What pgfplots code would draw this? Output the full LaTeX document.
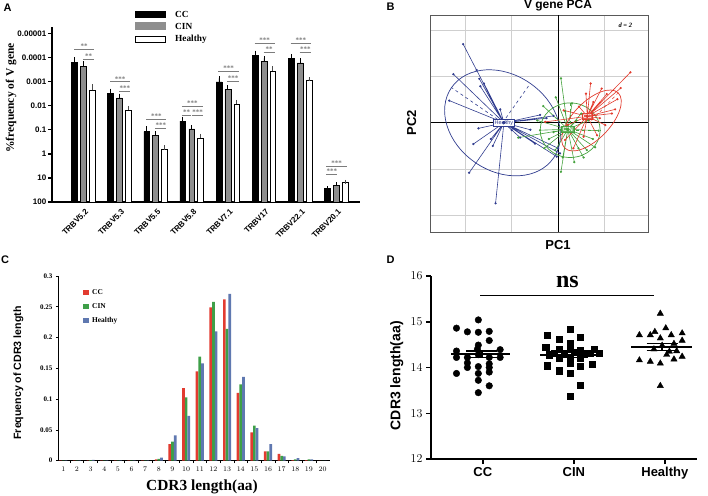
\documentclass[border=0pt]{standalone}
\usepackage{fontspec}
\setmainfont{Liberation Serif}
\setsansfont{Liberation Sans}
\usepackage{pgfplots}
\usepackage{pgfplotstable}
\pgfplotsset{compat=1.18}

\definecolor{cinGray}{HTML}{8E8E8E}
\definecolor{starGray}{HTML}{7C7C7C}
\definecolor{cRed}{HTML}{E23B30}
\definecolor{cGreen}{HTML}{3E9F48}
\definecolor{cBlue}{HTML}{5F78B0}
\definecolor{pBlue}{HTML}{313D8F}
\definecolor{pGreen}{HTML}{45A23E}
\definecolor{pRed}{HTML}{E23A2C}
\definecolor{gridGray}{HTML}{CFCFCF}

\newcommand{\fs}[1]{\fontsize{#1}{#1}\selectfont}
\newcommand{\sig}[4]{\draw[starGray, line width=0.7pt] (axis cs:#1,#3) -- (axis cs:#2,#3) node[midway, above, inner sep=0.4pt, text=starGray, font=\bfseries\fs{7}] {#4};}

% Panel A: bar height in decades above the 100 baseline (axis labels 100 ... 0.00001)
\pgfplotstableread{
x cc ccE cin cinE hl hlE
0 5.80 0.13 5.64 0.11 4.63 0.18
1 4.52 0.10 4.32 0.09 3.82 0.09
2 2.92 0.14 2.77 0.08 2.17 0.10
3 3.36 0.10 3.03 0.08 2.66 0.08
4 4.99 0.14 4.68 0.08 4.07 0.09
5 6.07 0.13 5.85 0.11 5.44 0.11
6 5.95 0.09 5.77 0.11 5.03 0.07
7 0.55 0.03 0.70 0.03 0.80 0.03
}\dataA

% Panel C: frequency of CDR3 length
\pgfplotstableread{
len cc cin hl
1 0.0005 0.0005 0.0005
2 0.0005 0.0005 0.0005
3 0.0005 0.0010 0.0015
4 0.0005 0.0005 0.0005
5 0.0005 0.0005 0.0005
6 0.0005 0.0005 0.0005
7 0.0005 0.0005 0.0005
8 0.002 0.003 0.005
9 0.027 0.031 0.041
10 0.118 0.103 0.073
11 0.145 0.169 0.158
12 0.249 0.258 0.210
13 0.262 0.214 0.271
14 0.110 0.124 0.136
15 0.046 0.057 0.053
16 0.015 0.015 0.027
17 0.011 0.008 0.007
18 0.001 0.002 0.004
19 0.001 0.002 0.002
20 0.0003 0.0003 0.0003
}\dataC

\begin{document}
\begin{tikzpicture}[x=1pt,y=1pt]
\useasboundingbox (0,0) rectangle (708,495);

%================ Panel A =================
\begin{axis}[
  at={(52pt,293pt)}, anchor=south west, scale only axis,
  width=308pt, height=174.7pt,
  xmin=-0.87, xmax=7.66, ymin=0, ymax=7.25,
  axis x line*=bottom, axis y line*=left,
  axis line style={-, line width=1.6pt},
  ytick={0,...,7}, yticklabels={100,10,1,0.1,0.01,0.001,0.0001,0.00001},
  xtick={0,...,7}, xticklabels={TRBV5.2,TRBV5.3,TRBV5.5,TRBV5.8,TRBV7.1,TRBV17,TRBV22.1,TRBV20.1},
  x tick label style={rotate=45, anchor=north east, font=\sffamily\bfseries\fs{8}, inner sep=0.5pt, yshift=-2pt},
  y tick label style={font=\sffamily\bfseries\fs{8}, inner sep=1.5pt},
  major x tick style={draw=none},
  major y tick style={line width=1.4pt, black},
  tick align=outside, major tick length=4pt,
  ybar, bar width=5.8pt,
  clip=false,
]
\addplot[fill=black, draw=black, line width=0.5pt, bar shift=-8.9pt,
  error bars/.cd, y dir=plus, y explicit, error bar style={line width=0.8pt, black}, error mark options={line width=0.8pt, mark size=2pt, black}]
  table[x=x, y=cc, y error=ccE]{\dataA};
\addplot[fill=cinGray, draw=black, line width=0.5pt, bar shift=0pt,
  error bars/.cd, y dir=plus, y explicit, error bar style={line width=0.8pt, black}, error mark options={line width=0.8pt, mark size=2pt, black}]
  table[x=x, y=cin, y error=cinE]{\dataA};
\addplot[fill=white, draw=black, line width=0.6pt, bar shift=8.9pt,
  error bars/.cd, y dir=plus, y explicit, error bar style={line width=0.8pt, black!70}, error mark options={line width=0.8pt, mark size=2pt, black!70}]
  table[x=x, y=hl, y error=hlE]{\dataA};
% significance marks
\sig{-0.26}{0.30}{6.34}{**}
\sig{-0.01}{0.30}{5.93}{**}
\sig{0.74}{1.30}{4.99}{***}
\sig{0.99}{1.30}{4.61}{***}
\sig{1.74}{2.30}{3.43}{***}
\sig{1.99}{2.30}{3.04}{***}
\sig{2.73}{3.30}{3.98}{***}
\sig{2.73}{2.98}{3.61}{**}
\sig{3.02}{3.30}{3.61}{***}
\sig{3.74}{4.30}{5.43}{***}
\sig{3.99}{4.30}{5.00}{***}
\sig{4.74}{5.30}{6.58}{***}
\sig{4.99}{5.30}{6.21}{**}
\sig{5.74}{6.30}{6.57}{***}
\sig{5.99}{6.30}{6.21}{***}
\sig{6.73}{7.30}{1.50}{***}
\sig{6.73}{7.03}{1.15}{***}
\end{axis}

% legend A
\draw[fill=black, draw=black, line width=0.5pt] (135,477.5) rectangle (165,484);
\draw[fill=cinGray, draw=cinGray, line width=0.5pt] (135,465.7) rectangle (165,472.3);
\draw[fill=white, draw=black, line width=0.6pt] (135,452.5) rectangle (165,459);
\node[anchor=west, font=\bfseries\fs{9.3}, inner sep=0] at (175,481) {CC};
\node[anchor=west, font=\bfseries\fs{9.3}, inner sep=0] at (175,469) {CIN};
\node[anchor=west, font=\bfseries\fs{9.3}, inner sep=0] at (175,455.7) {Healthy};
\node[rotate=90, font=\bfseries\fs{11.5}] at (11,397) {\%frequency of V gene};
\node[font=\sffamily\bfseries\fs{11}] at (7.5,487.5) {A};

%================ Panel B =================
\begin{axis}[
  at={(430.7pt,263pt)}, anchor=south west, scale only axis,
  width=217.3pt, height=217pt,
  xmin=-2.75, xmax=1.94, ymin=-2.36, ymax=2.33,
  xtick={-2,-1,1}, ytick={-2,-1,1,2},
  xticklabels={}, yticklabels={}, major tick length=0pt,
  grid=major, grid style={gridGray, line width=1pt},
  axis line style={draw=black!65, line width=0.6pt},
  clip=true,
]
\draw[black, line width=0.9pt] (axis cs:0,-2.36) -- (axis cs:0,2.33);
\draw[black, line width=0.9pt] (axis cs:-2.75,0) -- (axis cs:1.94,0);
% Healthy
\addplot[pBlue, line width=0.6pt, mark=*, mark size=0.8pt, mark options={fill=pBlue}] coordinates {
(-1.17,0) (-2.05,1.70) (-1.17,0) (-2.26,1.05) (-1.17,0) (-2.35,0.48)
(-1.17,0) (-1.68,0.79) (-1.17,0) (-1.76,1.14) (-1.17,0) (-1.70,0.95)
(-1.17,0) (-1.25,0.29) (-1.17,0) (-1.72,-0.12) (-1.17,0) (-1.83,-0.46)
(-1.17,0) (-1.41,-0.50) (-1.17,0) (-1.92,-1.08) (-1.17,0) (-1.35,-1.74)
(-1.17,0) (-0.39,0.17) (-1.17,0) (-0.82,-0.32) (-1.17,0) (-1.00,-0.16)
(-1.17,0) (0.04,-0.66) (-1.17,0) (-0.03,-0.73) (-1.17,0) (-0.10,0.15)
(-1.17,0) (-0.25,0.10) (-1.17,0) (0.00,-0.55) (-1.17,0) (-0.60,-0.15)
(-1.17,0) (-1.45,-0.35) (-1.17,0) (-1.60,0.85) (-1.17,0) (-0.50,-0.45)
};
\draw[pBlue, line width=0.7pt, rotate around={-34.6:(axis cs:-1.2,0)}] (axis cs:-1.2,0) ellipse [x radius=62pt, y radius=48.2pt];
\draw[pBlue, line width=0.6pt, dashed] (axis cs:-1.2,0) -- (axis cs:-2.30,0.76);
\draw[pBlue, line width=0.6pt, dashed] (axis cs:-1.2,0) -- (axis cs:-0.60,0.85);
% CIN
\addplot[pGreen, line width=0.6pt, mark=*, mark size=0.8pt, mark options={fill=pGreen}] coordinates {
(0.21,-0.14) (0.06,0.96) (0.21,-0.14) (-0.32,0.36) (0.21,-0.14) (0.30,0.42)
(0.21,-0.14) (0.87,-0.17) (0.21,-0.14) (0.80,-0.53) (0.21,-0.14) (0.06,-1.06)
(0.21,-0.14) (-0.39,-0.16) (0.21,-0.14) (-0.06,-0.59) (0.21,-0.14) (0.62,-0.59)
(0.21,-0.14) (-0.86,-0.32) (0.21,-0.14) (0.44,-0.55) (0.21,-0.14) (0.50,0.20)
(0.21,-0.14) (0.65,0.05) (0.21,-0.14) (-0.20,-0.35) (0.21,-0.14) (0.10,-0.75)
(0.21,-0.14) (0.35,-0.85) (0.21,-0.14) (-0.45,0.05) (0.21,-0.14) (0.75,-0.35)
(0.21,-0.14) (0.15,0.25) (0.21,-0.14) (-0.10,-0.20) (0.21,-0.14) (0.55,-0.75)
(0.21,-0.14) (-0.30,-0.55) (0.21,-0.14) (0.40,0.05) (0.21,-0.14) (-0.05,0.55)
};
\draw[pGreen, line width=0.7pt] (axis cs:0.26,-0.16) ellipse [x radius=30pt, y radius=27.3pt];
\draw[pGreen, line width=0.5pt, dashed] (axis cs:0.26,-0.16) -- (axis cs:0.91,-0.16);
\draw[pGreen, line width=0.5pt, dashed] (axis cs:0.26,-0.16) -- (axis cs:0.26,0.43);
% CC
\addplot[pRed, line width=0.6pt, mark=*, mark size=0.8pt, mark options={fill=pRed}] coordinates {
(0.63,0.14) (1.56,1.09) (0.63,0.14) (0.94,0.74) (0.63,0.14) (0.60,0.63)
(0.63,0.14) (1.28,0.51) (0.63,0.14) (1.23,0.29) (0.63,0.14) (1.16,0.20)
(0.63,0.14) (0.76,0.45) (0.63,0.14) (-0.28,0.02) (0.63,0.14) (0.33,-0.55)
(0.63,0.14) (0.84,-0.27) (0.63,0.14) (1.02,-0.05) (0.63,0.14) (0.15,-0.37)
(0.63,0.14) (0.12,0.27) (0.63,0.14) (1.05,0.62) (0.63,0.14) (0.45,0.35)
(0.63,0.14) (0.90,0.10) (0.63,0.14) (0.55,-0.30) (0.63,0.14) (0.20,-0.05)
(0.63,0.14) (1.35,0.75) (0.63,0.14) (0.70,0.85)
};
\draw[pRed, line width=0.7pt, rotate around={46:(axis cs:0.72,0.05)}] (axis cs:0.72,0.05) ellipse [x radius=38.4pt, y radius=18.5pt];
\draw[pRed, line width=0.5pt, dashed] (axis cs:0.72,0.05) -- (axis cs:1.30,0.65);
% group labels
\node[draw=pBlue, fill=white, text=pBlue, font=\sffamily\fs{5.5}, inner sep=1pt, line width=0.7pt] at (axis cs:-1.17,0) {Healthy};
\node[draw=pGreen, fill=pGreen!85, text=white, font=\sffamily\bfseries\fs{6}, inner sep=1pt, line width=0.7pt] at (axis cs:0.21,-0.14) {CIN};
\node[draw=pRed, fill=pRed!85, text=white, font=\sffamily\bfseries\fs{6}, inner sep=1pt, line width=0.7pt] at (axis cs:0.63,0.14) {CC};
\node[fill=white, inner sep=1pt, font=\bfseries\itshape\fs{6.5}] at (axis cs:1.45,2.11) {d = 2};
\end{axis}
\node[font=\sffamily\bfseries\fs{12}] at (558,489) {V gene PCA};
\node[rotate=90, font=\sffamily\bfseries\fs{13}] at (411.7,372.3) {PC2};
\node[font=\sffamily\bfseries\fs{13}] at (558,250) {PC1};
\node[font=\sffamily\bfseries\fs{11}] at (390.7,488.3) {B};

%================ Panel C =================
\begin{axis}[
  at={(58.3pt,34.3pt)}, anchor=south west, scale only axis,
  width=271.7pt, height=184.7pt,
  xmin=0.634, xmax=20.54, ymin=0, ymax=0.3,
  axis x line*=bottom, axis y line*=left,
  axis line style={-, line width=1pt},
  xtick={1,...,20}, minor xtick={1.5,2.5,...,19.5},
  ytick={0,0.05,0.1,0.15,0.2,0.25,0.3}, yticklabels={0,0.05,0.1,0.15,0.2,0.25,0.3},
  scaled y ticks=false,
  ticklabel style={font=\bfseries\fs{7}},
  major x tick style={draw=none},
  minor x tick style={black, line width=0.6pt},
  major y tick style={black, line width=0.6pt},
  tick align=outside, major tick length=2.5pt, minor tick length=2.5pt,
  ybar, bar width=2.7pt,
  clip=false,
]
\addplot[fill=cRed, draw=none, bar shift=-2.7pt] table[x=len, y=cc]{\dataC};
\addplot[fill=cGreen, draw=none, bar shift=0pt] table[x=len, y=cin]{\dataC};
\addplot[fill=cBlue, draw=none, bar shift=2.7pt] table[x=len, y=hl]{\dataC};
\end{axis}
\fill[cRed] (83.3,200) rectangle (88.6,205.3);
\fill[cGreen] (83.3,186) rectangle (88.6,191.3);
\fill[cBlue] (83.3,172) rectangle (88.6,177.3);
\node[anchor=west, font=\bfseries\fs{7.4}, inner sep=0] at (92,202.5) {CC};
\node[anchor=west, font=\bfseries\fs{7.4}, inner sep=0] at (92,188.5) {CIN};
\node[anchor=west, font=\bfseries\fs{7.4}, inner sep=0] at (92,174.5) {Healthy};
\node[rotate=90, font=\sffamily\bfseries\fs{10.6}] at (18.3,122) {Frequency of CDR3 length};
\node[font=\bfseries\fs{15.4}] at (202,8.3) {CDR3 length(aa)};
\node[font=\sffamily\bfseries\fs{11}] at (5,235.7) {C};

%================ Panel D =================
\begin{axis}[
  at={(431pt,36pt)}, anchor=south west, scale only axis,
  width=265.7pt, height=183pt,
  xmin=-0.57, xmax=2.35, ymin=12, ymax=16,
  axis x line*=bottom, axis y line*=left,
  axis line style={-, line width=1.5pt},
  xtick={0,1,2}, xticklabels={CC,CIN,Healthy},
  ytick={12,...,16},
  tick align=outside, major tick length=5pt,
  tick style={line width=1.5pt, black},
  ticklabel style={font=\sffamily\bfseries\fs{13}},
  clip=false,
]
\addplot[only marks, mark=*, mark size=3.3pt, black] coordinates {
(-0.05,15.04) (-0.29,14.86) (-0.17,14.78) (-0.05,14.77) (0.07,14.79)
(0.07,14.59) (-0.05,14.49) (-0.29,14.36) (0.19,14.39) (-0.06,14.40)
(-0.29,14.22) (-0.17,14.22) (-0.05,14.28) (0.07,14.22) (0.19,14.22)
(-0.17,14.00) (-0.05,14.02) (0.07,14.00) (0.07,14.08) (-0.29,13.87)
(-0.05,13.87) (-0.05,13.72) (0.07,13.60) (-0.05,13.45) (-0.17,14.10) (0.07,13.90)
};
\addplot[only marks, mark=square*, mark size=3.1pt, black] coordinates {
(0.96,14.83) (0.71,14.70) (0.84,14.62) (1.07,14.66) (0.96,14.52)
(0.69,14.45) (0.84,14.40) (1.22,14.40) (1.07,14.38) (0.78,14.31)
(0.89,14.31) (1.00,14.33) (1.11,14.31) (1.18,14.31) (0.96,14.42)
(0.84,14.20) (0.96,14.20) (1.07,14.20) (0.71,14.04) (0.96,14.09)
(1.20,14.08) (0.84,13.93) (0.96,13.87) (1.07,14.02) (1.07,13.62)
(0.96,13.38) (0.73,14.28) (1.28,14.32)
};
\addplot[only marks, mark=triangle*, mark size=3.6pt, black] coordinates {
(1.95,15.18) (1.72,14.71) (1.84,14.71) (2.01,14.86) (1.89,14.78)
(2.07,14.71) (2.19,14.75) (1.95,14.64) (2.19,14.59) (1.97,14.48)
(2.10,14.52) (1.88,14.40) (2.05,14.35) (1.72,14.16) (1.84,14.13)
(1.95,14.09) (2.10,14.18) (2.19,14.24) (2.02,14.28) (1.95,13.60) (2.13,14.36)
};
% means and SEM
\addplot[black, line width=1.8pt] coordinates {(-0.35,14.29) (0.30,14.29)};
\addplot[black, line width=1.3pt] coordinates {(-0.18,14.36) (0.16,14.36)};
\addplot[black, line width=1.3pt] coordinates {(-0.18,14.22) (0.16,14.22)};
\addplot[black, line width=1.3pt] coordinates {(-0.01,14.22) (-0.01,14.36)};
\addplot[black, line width=1.8pt] coordinates {(0.63,14.28) (1.30,14.28)};
\addplot[black, line width=1.3pt] coordinates {(0.82,14.34) (1.16,14.34)};
\addplot[black, line width=1.3pt] coordinates {(0.82,14.22) (1.16,14.22)};
\addplot[black, line width=1.3pt] coordinates {(0.99,14.22) (0.99,14.34)};
\addplot[black, line width=1.8pt] coordinates {(1.63,14.45) (2.30,14.45)};
\addplot[black, line width=1.3pt] coordinates {(1.80,14.53) (2.14,14.53)};
\addplot[black, line width=1.3pt] coordinates {(1.80,14.37) (2.14,14.37)};
\addplot[black, line width=1.3pt] coordinates {(1.97,14.37) (1.97,14.53)};
% ns bracket
\addplot[black, line width=1.5pt] coordinates {(-0.03,15.57) (1.88,15.57)};
\node[font=\bfseries\fs{24}] at (axis cs:0.93,15.86) {ns};
\end{axis}
\node[rotate=90, font=\sffamily\bfseries\fs{14}] at (396.7,119.3) {CDR3 length(aa)};
\node[font=\sffamily\bfseries\fs{11}] at (390.7,235) {D};

\end{tikzpicture}
\end{document}
